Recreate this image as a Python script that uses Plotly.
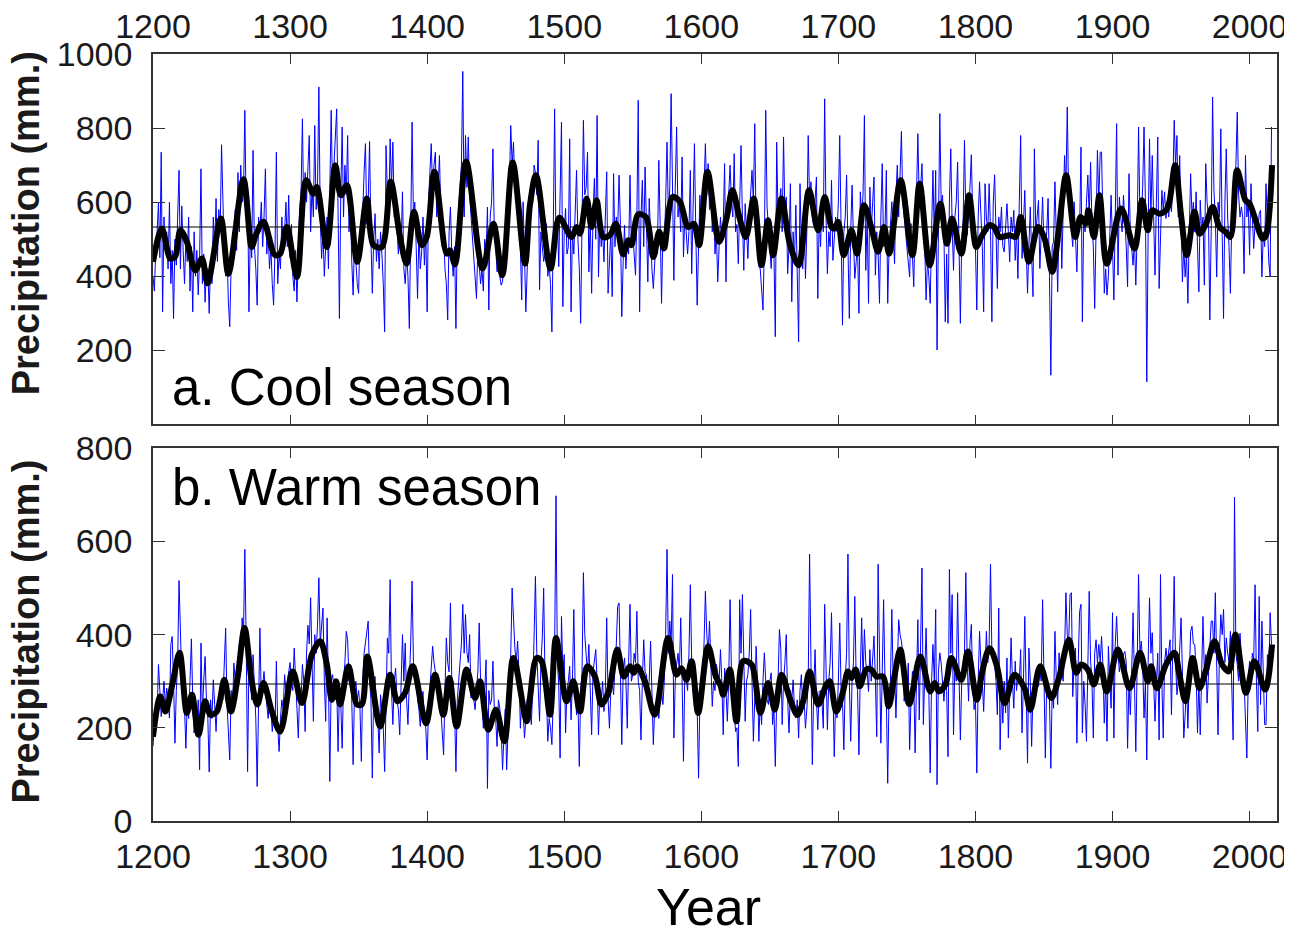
import plotly.graph_objects as go

# Annual reconstructed precipitation (mm), one value per year from 1200
years = list(range(1200, 2017))

cool_annual = [
    400, 360, 470, 520, 600, 450, 735, 304, 560, 480,
    520, 420, 600, 380, 470, 286, 500, 430, 560, 686,
    420, 590, 470, 380, 500, 440, 560, 360, 480, 304,
    520, 400, 470, 350, 450, 690, 380, 460, 330, 420,
    420, 300, 450, 380, 560, 470, 610, 440, 580, 520,
    755, 560, 460, 400, 470, 330, 264, 430, 520, 470,
    580, 470, 680, 520, 700, 600, 620, 848, 560, 640,
    304, 520, 450, 740, 480, 420, 322, 560, 520, 600,
    480, 560, 690, 460, 520, 420, 480, 380, 322, 470,
    735, 380, 460, 420, 560, 470, 520, 600, 480, 619,
    450, 540, 400, 360, 470, 331, 430, 580, 620, 825,
    560, 680, 600, 720, 780, 520, 640, 560, 807, 580,
    640, 911, 560, 448, 520, 400, 470, 560, 420, 600,
    848, 620, 700, 760, 852, 580, 286, 620, 803, 560,
    700, 620, 780, 520, 600, 440, 349, 500, 420, 380,
    354, 520, 460, 600, 680, 758, 540, 600, 764, 500,
    354, 500, 569, 440, 500, 420, 520, 460, 380, 250,
    753, 620, 560, 771, 640, 762, 560, 600, 520, 460,
    520, 480, 628, 420, 380, 460, 400, 259, 520, 816,
    560, 600, 480, 340, 520, 420, 466, 560, 430, 520,
    304, 600, 680, 758, 620, 700, 735, 560, 640, 726,
    560, 480, 520, 420, 380, 282, 520, 587, 460, 400,
    480, 259, 520, 600, 640, 700, 953, 560, 780, 640,
    776, 620, 560, 500, 460, 400, 340, 480, 420, 380,
    420, 360, 500, 460, 587, 309, 560, 600, 744, 520,
    480, 412, 460, 400, 376, 385, 440, 420, 520, 580,
    640, 807, 700, 762, 640, 600, 560, 520, 480, 336,
    601, 460, 304, 420, 480, 560, 620, 600, 700, 680,
    620, 767, 363, 520, 480, 440, 460, 542, 400, 430,
    380, 250, 520, 852, 480, 560, 426, 600, 816, 318,
    520, 583, 460, 480, 771, 304, 520, 460, 560, 686,
    500, 420, 273, 600, 821, 620, 640, 735, 412, 560,
    354, 560, 664, 500, 834, 398, 560, 480, 520, 439,
    560, 682, 354, 460, 520, 345, 677, 480, 560, 520,
    673, 540, 291, 440, 538, 420, 497, 460, 673, 484,
    520, 460, 403, 560, 875, 304, 560, 659, 480, 695,
    520, 385, 610, 480, 420, 367, 440, 500, 460, 713,
    540, 327, 520, 480, 600, 762, 560, 640, 893, 600,
    389, 640, 803, 560, 600, 520, 722, 452, 560, 520,
    460, 520, 686, 407, 560, 758, 520, 322, 480, 619,
    520, 580, 640, 758, 620, 704, 580, 668, 520, 600,
    460, 520, 385, 480, 560, 500, 540, 704, 385, 600,
    620, 700, 600, 560, 731, 520, 540, 434, 600, 753,
    560, 416, 596, 520, 448, 560, 620, 686, 600, 812,
    520, 480, 426, 420, 376, 309, 480, 848, 587, 520,
    480, 421, 520, 460, 237, 762, 560, 600, 637, 520,
    776, 560, 614, 407, 480, 650, 331, 520, 440, 592,
    400, 223, 650, 480, 420, 560, 394, 520, 780, 600,
    655, 560, 538, 620, 668, 340, 560, 480, 600, 520,
    879, 560, 407, 520, 480, 659, 443, 500, 560, 520,
    600, 780, 460, 268, 520, 560, 673, 480, 286, 520,
    646, 500, 394, 440, 480, 300, 628, 560, 620, 834,
    416, 560, 327, 641, 520, 600, 668, 403, 520, 460,
    327, 560, 704, 480, 520, 686, 327, 480, 560, 601,
    520, 434, 620, 700, 560, 680, 791, 600, 560, 506,
    480, 440, 398, 542, 460, 372, 560, 620, 785, 600,
    640, 704, 560, 480, 336, 440, 400, 327, 520, 686,
    500, 686, 201, 560, 839, 600, 619, 520, 277, 460,
    273, 600, 744, 540, 416, 560, 600, 708, 480, 273,
    500, 547, 767, 560, 511, 600, 640, 728, 560, 520,
    480, 309, 560, 655, 560, 480, 304, 650, 560, 520,
    650, 520, 277, 600, 674, 520, 367, 560, 520, 587,
    480, 466, 540, 596, 520, 439, 560, 520, 578, 443,
    520, 394, 600, 780, 448, 540, 632, 480, 354, 480,
    587, 460, 345, 744, 520, 560, 605, 421, 520, 614,
    480, 466, 520, 610, 400, 133, 480, 493, 655, 520,
    358, 540, 600, 421, 560, 726, 640, 857, 610, 560,
    520, 480, 601, 520, 412, 560, 520, 749, 277, 560,
    520, 600, 673, 560, 708, 540, 480, 313, 560, 740,
    600, 735, 735, 480, 354, 420, 349, 400, 520, 619,
    480, 336, 560, 812, 403, 614, 560, 520, 619, 560,
    480, 372, 677, 520, 460, 430, 500, 376, 520, 803,
    560, 547, 640, 803, 600, 115, 520, 771, 560, 726,
    560, 403, 600, 776, 367, 520, 632, 580, 628, 556,
    600, 560, 620, 574, 640, 821, 700, 780, 560, 726,
    560, 385, 480, 398, 460, 327, 520, 677, 560, 600,
    520, 628, 480, 358, 605, 520, 560, 376, 704, 600,
    560, 282, 520, 884, 632, 560, 398, 600, 560, 798,
    520, 286, 600, 744, 560, 480, 354, 556, 600, 640,
    700, 843, 620, 560, 587, 560, 407, 726, 560, 600,
    457, 650, 560, 475, 542, 560, 520, 569, 578, 398,
    520, 480, 650, 560, 439, 400, 803,
]

warm_annual = [
    160, 200, 250, 230, 336, 280, 224, 260, 300, 250,
    285, 260, 221, 379, 396, 300, 167, 280, 340, 516,
    420, 300, 328, 240, 156, 260, 220, 300, 391, 260,
    189, 230, 200, 260, 110, 382, 228, 300, 353, 260,
    220, 105, 260, 220, 303, 250, 192, 260, 240, 280,
    300, 260, 330, 414, 250, 200, 131, 280, 240, 339,
    300, 260, 336, 380, 320, 436, 400, 583, 380, 106,
    343, 300, 260, 357, 280, 220, 74, 280, 414, 260,
    300, 321, 280, 250, 220, 260, 240, 192, 230, 200,
    343, 200, 149, 220, 260, 240, 314, 280, 300, 321,
    340, 300, 280, 371, 300, 260, 178, 280, 260, 336,
    300, 192, 360, 420, 380, 479, 300, 214, 400, 360,
    420, 522, 380, 420, 457, 300, 214, 436, 300, 85,
    300, 314, 280, 260, 300, 149, 280, 250, 156, 300,
    340, 407, 389, 300, 328, 260, 121, 280, 300, 260,
    280, 242, 128, 300, 360, 380, 411, 429, 300, 260,
    92, 280, 310, 240, 220, 146, 271, 240, 200, 106,
    300, 393, 360, 518, 280, 207, 300, 328, 260, 240,
    185, 300, 400, 300, 382, 260, 207, 300, 380, 515,
    340, 300, 314, 260, 240, 203, 260, 278, 220, 200,
    131, 240, 280, 320, 375, 340, 320, 300, 260, 285,
    240, 200, 142, 280, 393, 340, 320, 468, 300, 300,
    240, 106, 260, 300, 340, 380, 465, 360, 443, 364,
    340, 400, 264, 280, 260, 239, 280, 320, 425, 300,
    260, 199, 280, 346, 70, 280, 250, 260, 343, 240,
    220, 160, 260, 242, 200, 110, 180, 240, 110, 200,
    300, 360, 500, 420, 371, 340, 386, 320, 199, 260,
    240, 178, 220, 260, 240, 242, 207, 280, 393, 525,
    360, 300, 214, 340, 393, 500, 300, 278, 171, 220,
    200, 164, 280, 360, 698, 340, 293, 135, 439, 320,
    357, 189, 280, 300, 332, 217, 300, 454, 280, 228,
    260, 117, 280, 320, 533, 400, 357, 320, 379, 300,
    185, 320, 340, 368, 300, 185, 280, 257, 300, 235,
    280, 436, 260, 199, 280, 300, 271, 320, 380, 461,
    468, 320, 164, 320, 350, 300, 199, 340, 465, 300,
    314, 360, 340, 450, 300, 280, 174, 300, 389, 320,
    314, 280, 300, 386, 260, 164, 240, 228, 260, 220,
    267, 280, 250, 300, 400, 583, 360, 429, 380, 529,
    178, 300, 336, 360, 320, 436, 300, 128, 320, 307,
    280, 360, 507, 340, 278, 293, 260, 240, 92, 260,
    293, 320, 380, 493, 400, 360, 429, 320, 246, 300,
    280, 336, 320, 300, 368, 300, 185, 328, 280, 214,
    300, 475, 320, 257, 240, 192, 200, 117, 475, 360,
    486, 340, 214, 300, 314, 360, 454, 300, 171, 260,
    375, 300, 171, 260, 207, 300, 361, 300, 260, 250,
    300, 318, 207, 240, 117, 260, 300, 411, 371, 207,
    300, 340, 400, 260, 189, 280, 260, 303, 240, 221,
    260, 178, 280, 314, 242, 260, 199, 240, 300, 573,
    320, 121, 280, 368, 260, 196, 278, 280, 260, 199,
    465, 300, 196, 300, 340, 447, 300, 138, 260, 221,
    300, 425, 280, 260, 153, 300, 360, 573, 300, 171,
    300, 340, 482, 300, 280, 142, 320, 436, 300, 411,
    340, 320, 278, 368, 300, 340, 397, 300, 181, 551,
    300, 167, 320, 475, 300, 260, 81, 280, 300, 454,
    300, 320, 221, 340, 432, 400, 386, 360, 257, 300,
    280, 339, 153, 260, 321, 300, 146, 300, 432, 217,
    360, 543, 207, 340, 414, 300, 280, 103, 300, 379,
    300, 454, 78, 320, 361, 339, 300, 257, 300, 280,
    138, 540, 360, 486, 185, 340, 300, 490, 320, 174,
    300, 300, 360, 533, 340, 257, 380, 422, 300, 239,
    260, 103, 300, 407, 340, 300, 235, 320, 407, 340,
    380, 551, 360, 371, 340, 300, 228, 457, 153, 280,
    210, 300, 232, 350, 178, 300, 393, 300, 242, 343,
    280, 314, 300, 368, 189, 300, 439, 280, 124, 371,
    300, 160, 280, 296, 321, 300, 289, 320, 300, 475,
    320, 135, 300, 282, 260, 113, 280, 242, 407, 300,
    250, 361, 300, 320, 300, 360, 490, 400, 379, 486,
    490, 267, 340, 371, 167, 340, 450, 465, 189, 300,
    250, 171, 340, 493, 343, 300, 178, 360, 389, 340,
    379, 340, 396, 336, 210, 300, 171, 375, 300, 242,
    447, 178, 380, 439, 360, 320, 343, 340, 357, 364,
    340, 156, 300, 228, 320, 447, 300, 149, 340, 529,
    360, 386, 340, 221, 300, 131, 340, 479, 360, 404,
    300, 214, 296, 360, 174, 529, 300, 178, 340, 371,
    340, 360, 389, 228, 360, 525, 340, 271, 300, 360,
    436, 320, 178, 228, 300, 199, 300, 407, 418, 380,
    379, 320, 189, 300, 185, 340, 439, 320, 357, 253,
    320, 380, 429, 429, 360, 490, 300, 185, 360, 443,
    400, 454, 340, 393, 360, 343, 407, 300, 174, 695,
    360, 336, 300, 403, 340, 307, 300, 228, 135, 300,
    343, 300, 360, 343, 507, 300, 192, 482, 250, 429,
    300, 207, 207, 357, 300, 447, 379,
]

# Smoothed curves
cool_smooth_years = [
    1200, 1206.5, 1212.6, 1216, 1220, 1224.7, 1230.8, 1235.7, 1239.8, 1249.5,
    1255, 1266, 1272, 1275, 1280.6, 1289, 1292.8, 1297.6, 1305, 1311.7,
    1317, 1319.5, 1326.8, 1333, 1337, 1341.4, 1349, 1356, 1360.8, 1366.9,
    1373.4, 1380.2, 1385, 1390.4, 1396, 1399.7, 1405.3, 1414.3, 1416.7, 1420.3,
    1428.4, 1440.5, 1448.3, 1454.8, 1462.4, 1471.4, 1475, 1479.4, 1490, 1496.4,
    1505.4, 1509, 1511.5, 1516.3, 1520, 1523.6, 1528.5, 1533.3, 1537.7, 1543,
    1546.7, 1549, 1554, 1559.6, 1565, 1569.3, 1572.7, 1579, 1584.4, 1590.4,
    1594.6, 1598.4, 1604.5, 1613, 1618.4, 1622.7, 1628, 1632.5, 1638.3, 1643.9,
    1648.7, 1652.4, 1658.5, 1664.5, 1671, 1678.6, 1685.2, 1690, 1695, 1697.3,
    1699.8, 1703.9, 1709.5, 1713.6, 1718.7, 1724, 1729, 1733.3, 1737, 1745.5,
    1754, 1759.3, 1766.6, 1774.4, 1779.2, 1782.9, 1789.7, 1795.3, 1800.6, 1804.2,
    1810.3, 1814, 1817.6, 1825, 1829.3, 1833, 1839, 1845.6, 1850.4, 1856,
    1860.9, 1866.2, 1872.8, 1876.7, 1880.3, 1882.5, 1886.4, 1890.5, 1895.8, 1906.3,
    1916, 1921.6, 1925.7, 1928.9, 1934.2, 1939.1, 1941.5, 1945.7, 1950, 1954.2,
    1959.8, 1963.4, 1968.3, 1973.1, 1978, 1982.4, 1986, 1990.9, 1997, 2000,
    2009.6, 2012, 2016.4,
]
cool_smooth = [
    439, 529, 448, 452, 524, 493, 416, 448, 381, 556,
    407, 662, 479, 511, 547, 457, 461, 533, 398, 659,
    623, 641, 479, 700, 619, 646, 439, 610, 484, 479,
    655, 506, 434, 574, 484, 506, 682, 461, 470, 432,
    710, 421, 542, 403, 708, 434, 592, 673, 421, 558,
    506, 533, 515, 610, 533, 605, 506, 511, 542, 459,
    497, 484, 567, 560, 452, 520, 475, 614, 601, 533,
    542, 484, 682, 493, 556, 632, 556, 506, 610, 430,
    551, 457, 610, 488, 430, 632, 524, 614, 533, 529,
    547, 457, 524, 461, 592, 533, 466, 533, 461, 659,
    457, 650, 430, 596, 488, 556, 461, 619, 479, 506,
    538, 531, 506, 511, 506, 560, 439, 533, 502, 412,
    529, 673, 506, 560, 542, 578, 506, 619, 434, 583,
    475, 605, 524, 578, 569, 578, 601, 700, 565, 457,
    574, 515, 542, 587, 533, 520, 506, 686, 605, 596,
    502, 511, 700,
]

warm_smooth_years = [
    1200, 1205.3, 1209, 1213.8, 1219.4, 1224.7, 1228.4, 1233.2, 1238, 1241.7,
    1246.6, 1252, 1256.8, 1261.7, 1266.8, 1272, 1276.2, 1280.6, 1286.7, 1292.8,
    1302, 1308.6, 1315.9, 1322, 1326.8, 1330.4, 1333.6, 1336.5, 1342.6, 1348.7,
    1352.3, 1356.4, 1365.7, 1373, 1378.3, 1383.9, 1389.5, 1399.2, 1405.8, 1411.8,
    1416.2, 1421.5, 1428.8, 1434.9, 1438.6, 1444.6, 1450.2, 1456.3, 1462.9, 1472.6,
    1475, 1479.9, 1483.5, 1489.6, 1494, 1501.7, 1506.6, 1511.5, 1516.8, 1522.4,
    1527.2, 1532.1, 1538.7, 1543.5, 1547.9, 1550.8, 1553.2, 1558.8, 1566, 1575.8,
    1581.9, 1585.6, 1589.2, 1592.9, 1597.7, 1605, 1610.6, 1614, 1616, 1620.8,
    1625.7, 1630.5, 1636.6, 1643.1, 1648.7, 1653.6, 1658.5, 1664.5, 1670.1, 1674.3,
    1679.1, 1685.2, 1691.3, 1693.7, 1698.5, 1703.4, 1707, 1709.5, 1712.6, 1715.6,
    1720.4, 1724, 1727.7, 1732.6, 1736.7, 1741.1, 1745.2, 1751.7, 1759.8, 1767,
    1770.2, 1773.4, 1778.2, 1782.4, 1789.7, 1794.5, 1801, 1805, 1810.3, 1815.7,
    1821.3, 1828.5, 1835.8, 1840, 1847.3, 1855.3, 1860.9, 1868.2, 1873.5, 1877.1,
    1882, 1886.4, 1891, 1895.8, 1903.9, 1912.4, 1920.1, 1925.7, 1928.2, 1932.3,
    1939.1, 1945.2, 1948.8, 1953.2, 1958.5, 1963.4, 1968.3, 1974.3, 1979.9, 1984.8,
    1989.6, 1997.4, 2003.5, 2011.3, 2016.4,
]
warm_smooth = [
    181, 267, 235, 289, 361, 232, 271, 185, 257, 228,
    235, 303, 235, 307, 414, 300, 250, 296, 235, 192,
    321, 253, 357, 386, 336, 260, 300, 250, 332, 250,
    250, 353, 203, 314, 257, 275, 332, 210, 314, 228,
    307, 203, 325, 264, 300, 196, 239, 171, 350, 214,
    264, 350, 343, 228, 393, 257, 300, 235, 332, 310,
    250, 275, 368, 310, 332, 318, 332, 300, 228, 393,
    314, 328, 303, 343, 232, 375, 310, 291, 271, 325,
    214, 343, 336, 232, 296, 239, 314, 264, 228, 257,
    321, 250, 293, 300, 235, 278, 321, 307, 325, 289,
    325, 325, 310, 310, 246, 314, 368, 251, 353, 278,
    296, 278, 293, 350, 303, 364, 260, 321, 371, 332,
    253, 314, 285, 239, 332, 264, 307, 389, 318, 336,
    325, 293, 336, 278, 368, 285, 361, 300, 332, 285,
    336, 361, 314, 257, 350, 285, 325, 386, 336, 321,
    400, 275, 343, 282, 379,
]

cool_mean = 533
warm_mean = 294

x_ticks = [1200, 1300, 1400, 1500, 1600, 1700, 1800, 1900, 2000]

FONT = "Liberation Sans, Arial, sans-serif"
AXIS_COLOR = "#333333"
TEXT_COLOR = "#1a1a1a"

fig = go.Figure()

# a. cool season
fig.add_trace(go.Scatter(x=years, y=cool_annual, mode="lines",
                         line=dict(color="#0000ff", width=1),
                         xaxis="x", yaxis="y", showlegend=False))
fig.add_trace(go.Scatter(x=cool_smooth_years, y=cool_smooth, mode="lines",
                         line=dict(color="black", width=6, shape="spline", smoothing=0.9),
                         xaxis="x", yaxis="y", showlegend=False))

# b. warm season
fig.add_trace(go.Scatter(x=years, y=warm_annual, mode="lines",
                         line=dict(color="#0000ff", width=1),
                         xaxis="x2", yaxis="y2", showlegend=False))
fig.add_trace(go.Scatter(x=warm_smooth_years, y=warm_smooth, mode="lines",
                         line=dict(color="black", width=6, shape="spline", smoothing=0.9),
                         xaxis="x2", yaxis="y2", showlegend=False))

# long-term mean lines
fig.add_shape(type="line", xref="x domain", yref="y", x0=0, x1=1,
              y0=cool_mean, y1=cool_mean, line=dict(color="black", width=1))
fig.add_shape(type="line", xref="x2 domain", yref="y2", x0=0, x1=1,
              y0=warm_mean, y1=warm_mean, line=dict(color="black", width=1))

xaxis_common = dict(
    range=[1200, 2020], tickvals=x_ticks, ticks="inside", ticklen=10,
    tickcolor=AXIS_COLOR, showline=True, linecolor=AXIS_COLOR, linewidth=1.5,
    mirror="ticks", showgrid=False, zeroline=False, automargin=False,
    tickfont=dict(family=FONT, size=34, color=TEXT_COLOR),
)
yaxis_common = dict(
    ticks="inside", ticklen=12, tickcolor=AXIS_COLOR, showline=True,
    linecolor=AXIS_COLOR, linewidth=1.5, mirror="ticks", showgrid=False,
    zeroline=False, automargin=False, ticklabelstandoff=12,
    tickfont=dict(family=FONT, size=34, color=TEXT_COLOR),
)

# the page body adds an 8 px offset, so the figure is 8 px smaller each way
fig.update_layout(
    width=1284, height=923,
    margin=dict(l=145, r=15, t=46, b=110),
    paper_bgcolor="white", plot_bgcolor="white",
    xaxis=dict(xaxis_common, anchor="y", side="top", ticklabelstandoff=1),
    yaxis=dict(yaxis_common, domain=[0.517, 1.0], range=[0, 1000],
               tickvals=[200, 400, 600, 800, 1000], anchor="x"),
    xaxis2=dict(xaxis_common, anchor="y2", side="bottom", ticklabelstandoff=4),
    yaxis2=dict(yaxis_common, domain=[0.0, 0.486], range=[0, 800],
                tickvals=[0, 200, 400, 600, 800], anchor="x2"),
    annotations=[
        dict(text="<b>Precipitation (mm.)</b>", xref="paper", yref="y domain",
             x=-0.113, y=0.543, xanchor="center", yanchor="middle",
             textangle=-90, showarrow=False,
             font=dict(family=FONT, size=38, color=TEXT_COLOR)),
        dict(text="<b>Precipitation (mm.)</b>", xref="paper", yref="y2 domain",
             x=-0.113, y=0.508, xanchor="center", yanchor="middle",
             textangle=-90, showarrow=False,
             font=dict(family=FONT, size=38, color=TEXT_COLOR)),
        dict(text="a. Cool season", xref="x domain", yref="y domain",
             x=0.015, y=0.099, xanchor="left", yanchor="middle", showarrow=False,
             font=dict(family=FONT, size=51, color="black")),
        dict(text="b. Warm season", xref="x2 domain", yref="y2 domain",
             x=0.015, y=0.896, xanchor="left", yanchor="middle", showarrow=False,
             font=dict(family=FONT, size=51, color="black")),
        dict(text="Year", xref="paper", yref="paper", x=0.494, y=-0.112,
             xanchor="center", yanchor="middle", showarrow=False,
             font=dict(family=FONT, size=52, color="black")),
    ],
)

fig.write_html("out.html")
